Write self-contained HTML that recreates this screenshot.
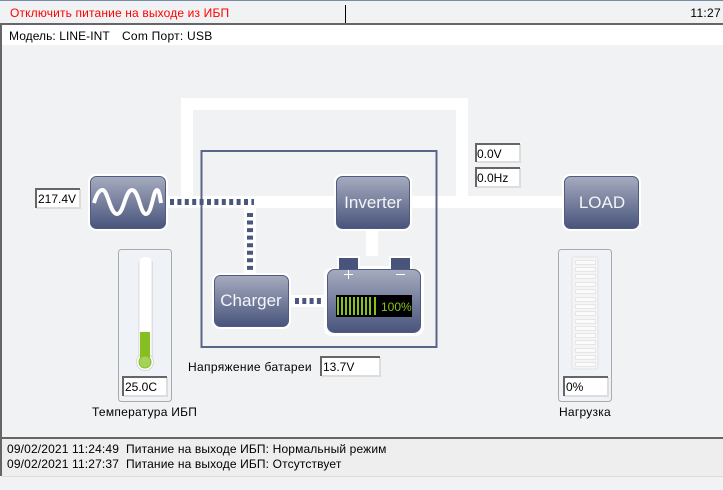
<!DOCTYPE html>
<html><head><meta charset="utf-8"><style>
html,body{margin:0;padding:0;width:723px;height:490px;overflow:hidden;background:#f1f2f4}
svg{display:block}
text{font-family:"Liberation Sans",sans-serif;font-size:12px;fill:#000}
.b{font-size:17px;fill:#f4f5f8;text-anchor:middle}
</style></head><body>
<svg width="723" height="490" viewBox="0 0 723 490" xmlns="http://www.w3.org/2000/svg">
<defs>
<linearGradient id="g" x1="0" y1="0" x2="0" y2="1"><stop offset="0" stop-color="#a6abbe"/><stop offset="1" stop-color="#48547c"/></linearGradient>
<linearGradient id="t" x1="0" y1="0" x2="1" y2="0"><stop offset="0" stop-color="#d8d9dc"/><stop offset=".15" stop-color="#fff"/><stop offset=".85" stop-color="#fff"/><stop offset="1" stop-color="#d4d5d8"/></linearGradient>
</defs>
<rect width="723" height="490" fill="#f1f2f4"/>
<rect width="723" height="1" fill="#7a8ba8"/>
<rect x="345" y="5" width="1" height="18" fill="#000"/>
<rect y="23" width="723" height="2" fill="#666"/>
<rect y="25" width="723" height="20" fill="#fff"/>
<rect y="23" width="2" height="453" fill="#666"/>
<rect y="437" width="723" height="2" fill="#666"/>
<rect x="2" y="439" width="721" height="37" fill="#eee"/>
<rect x="2" y="476" width="721" height="1" fill="#ddd"/>
<text x="10" y="17" style="fill:#f00;letter-spacing:.15px">Отключить питание на выходе из ИБП</text>
<text x="721" y="17" text-anchor="end" style="letter-spacing:.3px">11:27</text>
<text x="9" y="40" style="letter-spacing:.06px">Модель: LINE-INT</text>
<text x="122" y="40" style="letter-spacing:.25px">Com Порт: USB</text>

<!-- white paths -->
<path d="M187 202V104H462V202" fill="none" stroke="#fff" stroke-width="12"/>
<rect x="168" y="196" width="396" height="12" fill="#fff"/>
<rect x="244" y="208" width="12" height="66" fill="#fff"/>
<rect x="366" y="230" width="12" height="26" fill="#fff"/>
<rect x="290" y="295" width="36" height="12" fill="#fff"/>

<!-- frame -->
<rect x="201.500" y="151" width="235" height="196" fill="none" stroke="#5a6688" stroke-width="2"/>

<!-- dashes -->
<path d="M170 202H254" fill="none" stroke="#4a567e" stroke-width="6" stroke-dasharray="4 3.4"/>
<path d="M250 213V271" fill="none" stroke="#4a567e" stroke-width="6" stroke-dasharray="4 3.55"/>
<path d="M295 301H325" fill="none" stroke="#4a567e" stroke-width="6" stroke-dasharray="4 3.3"/>

<!-- buttons -->
<g stroke="#fff" stroke-width="2">
<rect x="89" y="175" width="78" height="55" rx="7" fill="#fff"/>
<rect x="335" y="175" width="76" height="55" rx="7" fill="#fff"/>
<rect x="213" y="274" width="77" height="54" rx="7" fill="#fff"/>
<rect x="563" y="175" width="77" height="55" rx="7" fill="#fff"/>
</g>
<g fill="url(#g)" stroke="#4f5b83" stroke-width="1">
<rect x="90.500" y="176.500" width="75" height="52" rx="6"/>
<rect x="336.500" y="176.500" width="73" height="52" rx="6"/>
<rect x="214.500" y="275.500" width="74" height="51" rx="6"/>
<rect x="564.500" y="176.500" width="74" height="52" rx="6"/>
</g>
<path d="M94 203C97 192 100 190 102.500 190C108 190 110 214 117 214C124 214 125 190 132 190C139 190 140 214 146 214C152 214 153 190 157 190C159 190 160 196 161 203" fill="none" stroke="#fff" stroke-width="4"/>
<text class="b" x="373" y="208">Inverter</text>
<text class="b" x="251" y="306">Charger</text>
<text class="b" x="602" y="208">LOAD</text>

<!-- battery -->
<path d="M337 269V256H360V266H389V256H412V269H416Q424 269 424 277V327Q424 336 415 336H333Q324 336 324 327V277Q324 268 332 268Z" fill="#fff"/>
<rect x="339" y="258" width="19" height="12" fill="#48547c"/>
<rect x="391" y="258" width="19" height="12" fill="#48547c"/>
<rect x="327.500" y="269.500" width="93" height="63" rx="7" fill="url(#g)" stroke="#4f5b83"/>
<path d="M344 274.500H353M348.500 270V279M396 274.500H405" stroke="#fff" stroke-width="1" fill="none"/>
<rect x="336" y="295" width="76" height="22" fill="#000"/>
<path d="M338 297V315M342 297V315M346 297V315M350 297V315M354 297V315M358 297V315M362 297V315M366 297V315M370 297V315M375 297V315" stroke="#86c21e" stroke-width="2"/>
<text x="381" y="311" style="fill:#86c21e;font-size:12px">100%</text>

<!-- thermometer panel -->
<rect x="118.500" y="249.500" width="53" height="152" rx="3" fill="#eff2f6" stroke="#aaa"/>
<rect x="138" y="257" width="15" height="112" rx="7" fill="url(#t)"/>
<circle cx="145" cy="362" r="8.500" fill="#fff" stroke="#d8d8d8"/>
<rect x="140" y="332" width="10" height="28" fill="#86bf22"/>
<circle cx="145" cy="362" r="6" fill="#a6d25a" stroke="#86bf22"/>

<!-- load panel -->
<rect x="558.500" y="249.500" width="53" height="152" rx="3" fill="#eff2f6" stroke="#aaa"/>
<rect x="572" y="257" width="26" height="112" rx="2" fill="#f5f5f5" stroke="#e2e2e2"/>
<g fill="#fbfbfb" stroke="#e6e6e6">
<rect x="575.500" y="260.500" width="20" height="4"/><rect x="575.500" y="267.500" width="20" height="4"/>
<rect x="575.500" y="274.500" width="20" height="4"/><rect x="575.500" y="282.500" width="20" height="4"/>
<rect x="575.500" y="289.500" width="20" height="4"/><rect x="575.500" y="297.500" width="20" height="4"/>
<rect x="575.500" y="304.500" width="20" height="4"/><rect x="575.500" y="311.500" width="20" height="4"/>
<rect x="575.500" y="319.500" width="20" height="4"/><rect x="575.500" y="326.500" width="20" height="4"/>
<rect x="575.500" y="333.500" width="20" height="4"/><rect x="575.500" y="340.500" width="20" height="4"/>
<rect x="575.500" y="348.500" width="20" height="4"/><rect x="575.500" y="355.500" width="20" height="4"/>
<rect x="575.500" y="362.500" width="20" height="4"/>
</g>

<!-- inputs -->
<g fill="#fff">
<rect x="35" y="188" width="46" height="21"/><rect x="475" y="143" width="46" height="20"/>
<rect x="475" y="167" width="46" height="21"/><rect x="320" y="356" width="61" height="21"/>
<rect x="122" y="376" width="46" height="21"/><rect x="563" y="376" width="46" height="21"/>
</g>
<g fill="none" stroke-width="2">
<path d="M80 189V208H36" stroke="#ddd"/><path d="M36 208V189H80" stroke="#666"/>
<path d="M520 144V162H476" stroke="#ddd"/><path d="M476 162V144H520" stroke="#666"/>
<path d="M520 168V187H476" stroke="#ddd"/><path d="M476 187V168H520" stroke="#666"/>
<path d="M380 357V376H321" stroke="#ddd"/><path d="M321 376V357H380" stroke="#666"/>
<path d="M167 377V396H123" stroke="#ddd"/><path d="M123 396V377H167" stroke="#666"/>
<path d="M608 377V396H564" stroke="#ddd"/><path d="M564 396V377H608" stroke="#666"/>
</g>
<text x="38" y="203">217.4V</text>
<text x="477" y="158">0.0V</text>
<text x="477" y="182">0.0Hz</text>
<text x="323" y="371">13.7V</text>
<text x="125" y="391">25.0C</text>
<text x="566" y="391">0%</text>

<text x="188" y="371" style="letter-spacing:.33px">Напряжение батареи</text>
<text x="92" y="416" style="letter-spacing:.27px">Температура ИБП</text>
<text x="559" y="416" style="letter-spacing:.25px">Нагрузка</text>
<text x="7" y="453" style="letter-spacing:.15px">09/02/2021 11:24:49</text>
<text x="126" y="453" style="letter-spacing:.14px">Питание на выходе ИБП: Нормальный режим</text>
<text x="7" y="468" style="letter-spacing:.15px">09/02/2021 11:27:37</text>
<text x="126" y="468" style="letter-spacing:.14px">Питание на выходе ИБП: Отсутствует</text>
</svg>
</body></html>
